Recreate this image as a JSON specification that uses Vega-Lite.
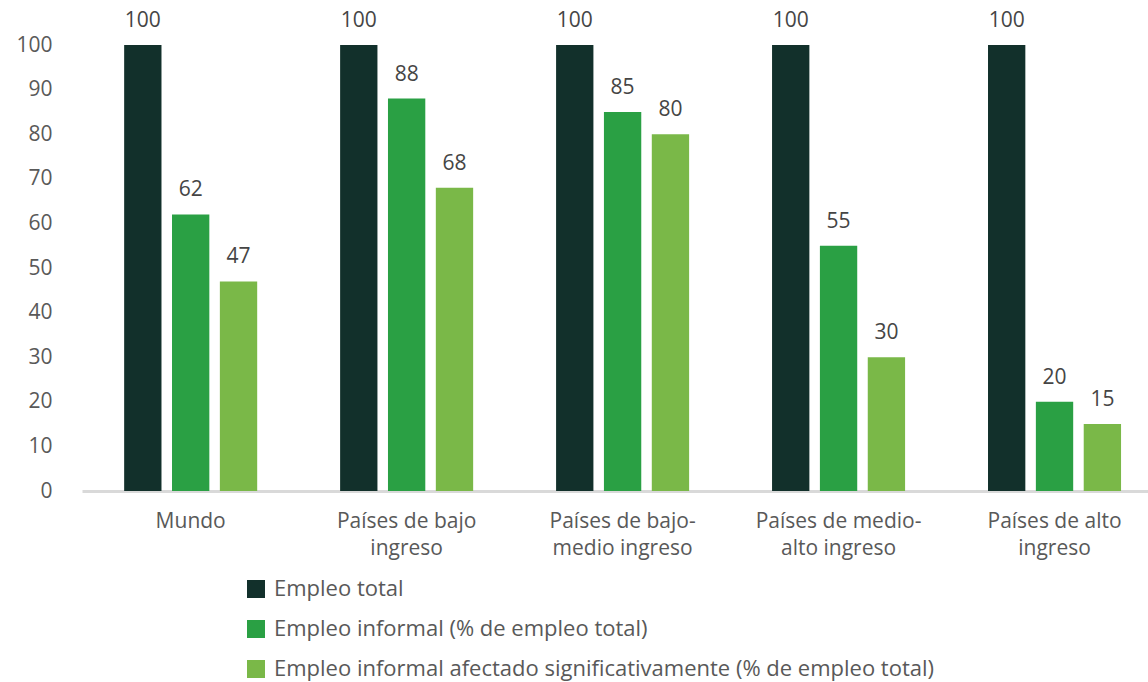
{
  "$schema": "https://vega.github.io/schema/vega-lite/v6.json",
  "width": 1066,
  "height": 446,
  "autosize": {"type": "none"},
  "padding": {"left": 82, "top": 45, "right": 0, "bottom": 191},
  "background": "white",
  "config": {
    "view": {"stroke": null},
    "font": "Open Sans",
    "text": {"font": "Open Sans"}
  },
  "data": {
    "values": [
      {"grupo": "Mundo", "serie": "Empleo total", "valor": 100},
      {"grupo": "Mundo", "serie": "Empleo informal (% de empleo total)", "valor": 62},
      {"grupo": "Mundo", "serie": "Empleo informal afectado significativamente (% de empleo total)", "valor": 47},
      {"grupo": "Países de bajo ingreso", "serie": "Empleo total", "valor": 100},
      {"grupo": "Países de bajo ingreso", "serie": "Empleo informal (% de empleo total)", "valor": 88},
      {"grupo": "Países de bajo ingreso", "serie": "Empleo informal afectado significativamente (% de empleo total)", "valor": 68},
      {"grupo": "Países de bajo-medio ingreso", "serie": "Empleo total", "valor": 100},
      {"grupo": "Países de bajo-medio ingreso", "serie": "Empleo informal (% de empleo total)", "valor": 85},
      {"grupo": "Países de bajo-medio ingreso", "serie": "Empleo informal afectado significativamente (% de empleo total)", "valor": 80},
      {"grupo": "Países de medio-alto ingreso", "serie": "Empleo total", "valor": 100},
      {"grupo": "Países de medio-alto ingreso", "serie": "Empleo informal (% de empleo total)", "valor": 55},
      {"grupo": "Países de medio-alto ingreso", "serie": "Empleo informal afectado significativamente (% de empleo total)", "valor": 30},
      {"grupo": "Países de alto ingreso", "serie": "Empleo total", "valor": 100},
      {"grupo": "Países de alto ingreso", "serie": "Empleo informal (% de empleo total)", "valor": 20},
      {"grupo": "Países de alto ingreso", "serie": "Empleo informal afectado significativamente (% de empleo total)", "valor": 15}
    ]
  },
  "encoding": {
    "x": {
      "field": "grupo",
      "type": "nominal",
      "sort": null,
      "scale": {"paddingInner": 0.384, "paddingOuter": 0.16, "align": 0.61},
      "axis": {
        "title": null,
        "domain": true,
        "domainColor": "#d9d9d9",
        "domainWidth": 3,
        "ticks": false,
        "labelAngle": 0,
        "labelFontSize": 21,
        "labelColor": "#595959",
        "labelPadding": 19,
        "labelLineHeight": 27,
        "labelBaseline": "top",
        "labelExpr": "datum.value == 'Mundo' ? 'Mundo' : datum.value == 'Países de bajo ingreso' ? ['Países de bajo', 'ingreso'] : datum.value == 'Países de bajo-medio ingreso' ? ['Países de bajo-', 'medio ingreso'] : datum.value == 'Países de medio-alto ingreso' ? ['Países de medio-', 'alto ingreso'] : ['Países de alto', 'ingreso']"
      }
    },
    "xOffset": {
      "field": "serie",
      "type": "nominal",
      "sort": null,
      "scale": {"paddingInner": 0.22, "paddingOuter": 0}
    },
    "y": {
      "field": "valor",
      "type": "quantitative",
      "scale": {"domain": [0, 100], "nice": false},
      "axis": {
        "title": null,
        "domain": false,
        "ticks": false,
        "grid": false,
        "values": [0, 10, 20, 30, 40, 50, 60, 70, 80, 90, 100],
        "labelFontSize": 21,
        "labelColor": "#595959",
        "labelPadding": 30
      }
    }
  },
  "layer": [
    {
      "mark": {"type": "bar"},
      "encoding": {
        "color": {
          "field": "serie",
          "type": "nominal",
          "sort": null,
          "scale": {
            "domain": ["Empleo total", "Empleo informal (% de empleo total)", "Empleo informal afectado significativamente (% de empleo total)"],
            "range": ["#12302B", "#2AA044", "#7AB848"]
          },
          "legend": {
            "title": null,
            "orient": "none",
            "legendX": 163,
            "legendY": 533,
            "direction": "vertical",
            "symbolType": "square",
            "symbolSize": 324,
            "symbolStrokeWidth": 0,
            "symbolOpacity": 1,
            "labelFontSize": 22,
            "labelColor": "#595959",
            "labelOffset": 7,
            "rowPadding": 18,
            "labelLimit": 900
          }
        }
      }
    },
    {
      "mark": {"type": "text", "baseline": "bottom", "dy": -14, "fontSize": 21, "color": "#454545"},
      "encoding": {
        "text": {"field": "valor", "type": "quantitative"}
      }
    }
  ]
}
